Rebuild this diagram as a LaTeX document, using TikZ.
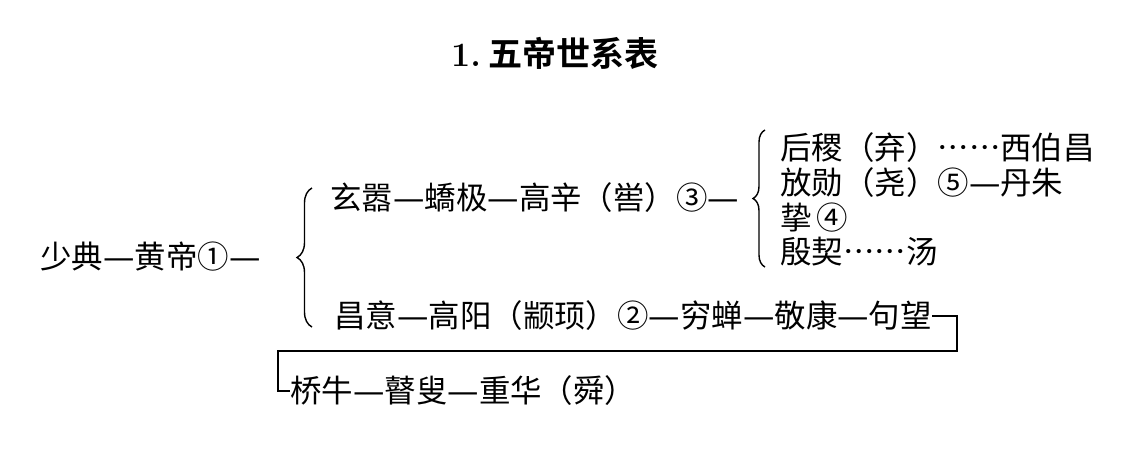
\documentclass[tikz,border=0pt]{standalone}
\usepackage{fontspec}
\newfontfamily\cjk[Script=CJK, Language=Chinese Simplified, BoldFont={Noto Sans CJK SC Bold}]{Noto Sans CJK SC}
\newfontfamily\dv{DejaVu Sans}
\newcommand\lk{{\dv —}}
\usetikzlibrary{decorations.pathreplacing}

\begin{document}
\begin{tikzpicture}[x=0.02cm, y=-0.02cm,
person/.style = {anchor=west, inner sep=0pt, font=\cjk\fontsize{17.9pt}{21pt}\selectfont},
link/.style = {line width=1pt},
bigbrace/.style = {decorate, decoration={brace, amplitude=0.3cm}, line width=0.8pt},
smallbrace/.style = {decorate, decoration={brace, amplitude=0.24cm}, line width=0.8pt}]
\useasboundingbox (0,0) rectangle (1144,450);
\fill[white] (0,0) rectangle (1144,450);
\node[inner sep=0pt, font=\fontsize{19.4pt}{23pt}\selectfont\bfseries] at (555,53) (title) {1.\hspace{0.15cm}{\cjk 五帝世系表}};
\node[person] at (40,257) (root) {少典\lk 黄帝①\lk};
\node[person] at (330,198) (xuan) {玄嚣\lk 蟜极\lk 高辛（喾）③\lk};
\node[person] at (334,316) (chang) {昌意\lk 高阳（颛顼）②\lk 穷蝉\lk 敬康\lk 句望};
\node[person] at (780,148) (ji) {后稷（弃）……西伯昌};
\node[person] at (780,183) (yao) {放勋（尧）⑤\lk 丹朱};
\node[person] at (780,218) (zhi) {挚\hspace{0.1cm}④};
\node[person] at (780,252) (qi) {殷契……汤};
\node[person] at (290,391) (shun) {桥牛\lk 瞽叟\lk 重华（舜）};
\coordinate (bt) at (312,188);
\coordinate (bb) at (312,327);
\coordinate (st) at (765,130);
\coordinate (sb) at (765,267);
\draw [bigbrace] (bb) -- (bt);
\draw [smallbrace] (sb) -- (st);
\coordinate (rc) at (957,351);
\coordinate (lc) at (278,351);
\draw [link] (chang.east) -| (rc) -- (lc) |- (shun.west);
\end{tikzpicture}
\end{document}
